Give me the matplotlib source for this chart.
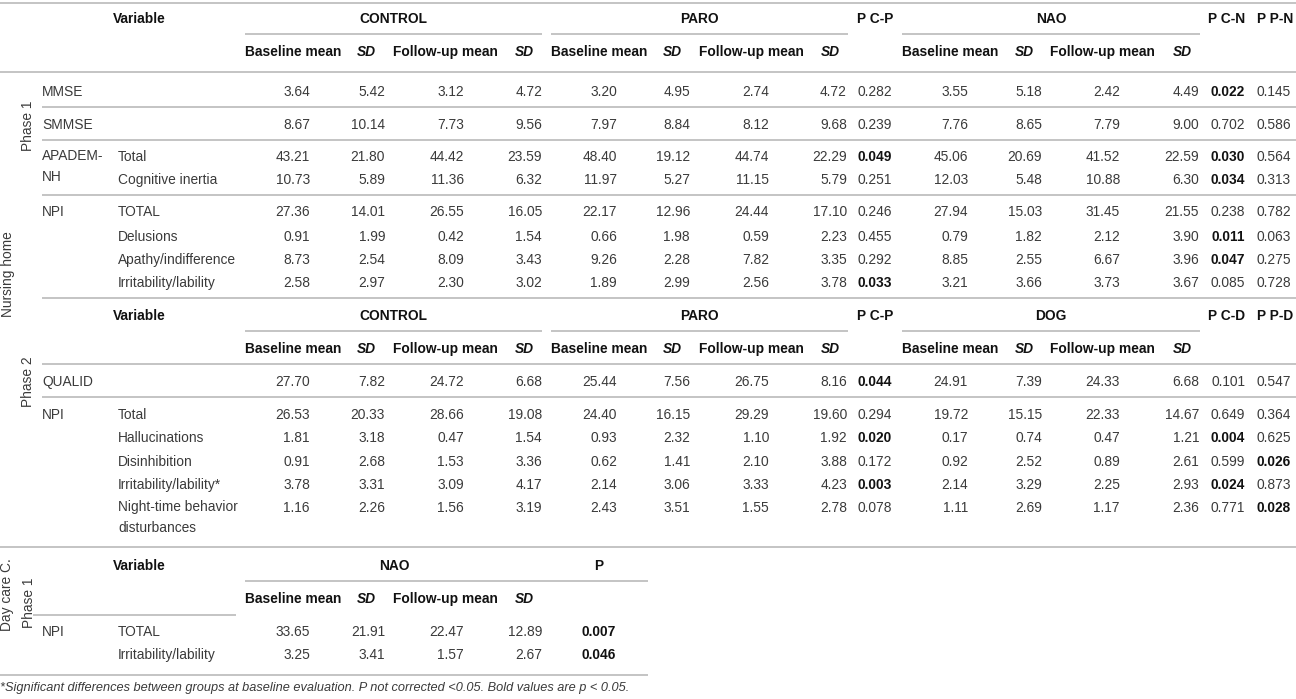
import matplotlib.pyplot as plt

# ---- data ----
p1_var = ["MMSE", "SMMSE", "APADEM-\nNH", "", "NPI", "", "", ""]
p1_sub = ["", "", "Total", "Cognitive inertia", "TOTAL", "Delusions",
          "Apathy/indifference", "Irritability/lability"]
p1_control = [[3.64, 5.42, 3.12, 4.72], [8.67, 10.14, 7.73, 9.56],
              [43.21, 21.80, 44.42, 23.59], [10.73, 5.89, 11.36, 6.32],
              [27.36, 14.01, 26.55, 16.05], [0.91, 1.99, 0.42, 1.54],
              [8.73, 2.54, 8.09, 3.43], [2.58, 2.97, 2.30, 3.02]]
p1_paro = [[3.20, 4.95, 2.74, 4.72], [7.97, 8.84, 8.12, 9.68],
           [48.40, 19.12, 44.74, 22.29], [11.97, 5.27, 11.15, 5.79],
           [22.17, 12.96, 24.44, 17.10], [0.66, 1.98, 0.59, 2.23],
           [9.26, 2.28, 7.82, 3.35], [1.89, 2.99, 2.56, 3.78]]
p1_p_cp = [0.282, 0.239, 0.049, 0.251, 0.246, 0.455, 0.292, 0.033]
p1_nao = [[3.55, 5.18, 2.42, 4.49], [7.76, 8.65, 7.79, 9.00],
          [45.06, 20.69, 41.52, 22.59], [12.03, 5.48, 10.88, 6.30],
          [27.94, 15.03, 31.45, 21.55], [0.79, 1.82, 2.12, 3.90],
          [8.85, 2.55, 6.67, 3.96], [3.21, 3.66, 3.73, 3.67]]
p1_p_cn = [0.022, 0.702, 0.030, 0.034, 0.238, 0.011, 0.047, 0.085]
p1_p_pn = [0.145, 0.586, 0.564, 0.313, 0.782, 0.063, 0.275, 0.728]

p2_var = ["QUALID", "NPI", "", "", "", ""]
p2_sub = ["", "Total", "Hallucinations", "Disinhibition",
          "Irritability/lability*", "Night-time behavior\ndisturbances"]
p2_control = [[27.70, 7.82, 24.72, 6.68], [26.53, 20.33, 28.66, 19.08],
              [1.81, 3.18, 0.47, 1.54], [0.91, 2.68, 1.53, 3.36],
              [3.78, 3.31, 3.09, 4.17], [1.16, 2.26, 1.56, 3.19]]
p2_paro = [[25.44, 7.56, 26.75, 8.16], [24.40, 16.15, 29.29, 19.60],
           [0.93, 2.32, 1.10, 1.92], [0.62, 1.41, 2.10, 3.88],
           [2.14, 3.06, 3.33, 4.23], [2.43, 3.51, 1.55, 2.78]]
p2_p_cp = [0.044, 0.294, 0.020, 0.172, 0.003, 0.078]
p2_dog = [[24.91, 7.39, 24.33, 6.68], [19.72, 15.15, 22.33, 14.67],
          [0.17, 0.74, 0.47, 1.21], [0.92, 2.52, 0.89, 2.61],
          [2.14, 3.29, 2.25, 2.93], [1.11, 2.69, 1.17, 2.36]]
p2_p_cd = [0.101, 0.649, 0.004, 0.599, 0.024, 0.771]
p2_p_pd = [0.547, 0.364, 0.625, 0.026, 0.873, 0.028]

dc_var = ["NPI", ""]
dc_sub = ["TOTAL", "Irritability/lability"]
dc_nao = [[33.65, 21.91, 22.47, 12.89], [3.25, 3.41, 1.57, 2.67]]
dc_p = [0.007, 0.046]

sub_heads = ["Baseline mean", "SD", "Follow-up mean", "SD"]
footnote = ("*Significant differences between groups at baseline evaluation. "
            "P not corrected <0.05. Bold values are p < 0.05.")

# ---- layout (pixels) ----
W, H = 1296, 699
TXT = "#3a3a3a"
BOLD = "#111111"
LINE = "#c4c4c4"
FS = 9.9
plt.rcParams['font.family'] = ['Liberation Sans', 'DejaVu Sans']

fig = plt.figure(figsize=(W / 100, H / 100), dpi=100)
ax = fig.add_axes([0, 0, 1, 1])
ax.set_xlim(0, W)
ax.set_ylim(H, 0)
ax.axis('off')


def txt(x, y, s, ha='left', bold=False, italic=False, size=FS, rot=0, va='center'):
    ax.text(x, y, s, ha=ha, va=va, color=BOLD if bold else TXT, fontsize=size,
            fontweight='bold' if bold else 'normal',
            fontstyle='italic' if italic else 'normal', rotation=rot,
            linespacing=1.65)


def label(x, y, s):
    # two-line labels start at the row, single ones are centred on it
    if "\n" in s:
        txt(x, y - 8, s, va='top')
    else:
        txt(x, y, s)


def hline(y, x0=0, x1=W):
    ax.plot([x0, x1], [y, y], color=LINE, lw=1.4, solid_capstyle='butt')


def pval(x, y, p):
    txt(x, y, "%.3f" % p, ha='center', bold=p < 0.05)


def group_head(y, name, x0, x1, head_x, cx=None):
    txt((x0 + x1) / 2 if cx is None else cx, y, name, ha='center', bold=True)
    hline(y + 15, x0, x1)
    for hx, h in zip(head_x, sub_heads):
        txt(hx, y + 33, h, bold=True, italic=(h == "SD"))


def values(y, vals, right_x):
    for rx, v in zip(right_x, vals):
        txt(rx, y, "%.2f" % v, ha='right')


ctrl_r = [310, 385, 464, 542]
paro_r = [617, 690, 769, 847]
nao_r = [968, 1042, 1120, 1199]
ctrl_h = [245, 357, 393, 515]
paro_h = [551, 663, 699, 821]
nao_h = [902, 1015, 1050, 1173]
X_VAR, X_SUB, X_HEAD = 42, 118, 113

# ---- nursing home, phase 1 ----
hline(3)
txt(X_HEAD, 19, "Variable", bold=True)
group_head(19, "CONTROL", 245, 542, ctrl_h)
group_head(19, "PARO", 551, 848, paro_h)
group_head(19, "NAO", 902, 1200, nao_h)
txt(875, 19, "P C-P", ha='center', bold=True)
txt(1227, 19, "P C-N", ha='center', bold=True)
txt(1275, 19, "P P-N", ha='center', bold=True)
hline(72)

p1_y = [92, 125, 157, 180, 212, 237, 260, 283]
for i, y in enumerate(p1_y):
    label(X_VAR, y, p1_var[i])
    label(X_SUB, y, p1_sub[i])
    values(y, p1_control[i], ctrl_r)
    values(y, p1_paro[i], paro_r)
    pval(875, y, p1_p_cp[i])
    values(y, p1_nao[i], nao_r)
    pval(1228, y, p1_p_cn[i])
    pval(1274, y, p1_p_pn[i])
for y in [107, 140, 195, 298]:
    hline(y, X_VAR)
txt(28, 126, "Phase 1", ha='center', rot=90)
txt(8, 274, "Nursing home", ha='center', rot=90)

# ---- nursing home, phase 2 ----
txt(X_HEAD, 316, "Variable", bold=True)
group_head(316, "CONTROL", 245, 542, ctrl_h)
group_head(316, "PARO", 551, 848, paro_h)
group_head(316, "DOG", 902, 1200, nao_h)
txt(875, 316, "P C-P", ha='center', bold=True)
txt(1227, 316, "P C-D", ha='center', bold=True)
txt(1275, 316, "P P-D", ha='center', bold=True)
hline(364, X_VAR)

p2_y = [382, 415, 438, 462, 485, 508]
for i, y in enumerate(p2_y):
    label(X_VAR, y, p2_var[i])
    label(X_SUB, y, p2_sub[i])
    values(y, p2_control[i], ctrl_r)
    values(y, p2_paro[i], paro_r)
    pval(875, y, p2_p_cp[i])
    values(y, p2_dog[i], nao_r)
    pval(1228, y, p2_p_cd[i])
    pval(1274, y, p2_p_pd[i])
hline(397, X_VAR)
txt(28, 382, "Phase 2", ha='center', rot=90)
hline(547)

# ---- day care centre, phase 1 ----
txt(X_HEAD, 566, "Variable", bold=True)
group_head(566, "NAO", 245, 648, ctrl_h, cx=394)
txt(599, 566, "P", ha='center', bold=True)
hline(615, 33, 236)
dc_y = [632, 655]
for i, y in enumerate(dc_y):
    label(X_VAR, y, dc_var[i])
    label(X_SUB, y, dc_sub[i])
    values(y, dc_nao[i], ctrl_r)
    pval(599, y, dc_p[i])
hline(675, 0, 648)
txt(29, 603, "Phase 1", ha='center', rot=90)
txt(7, 595, "Day care C.", ha='center', rot=90)

txt(0, 688, footnote, italic=True, size=9.2)

fig.savefig("out.png", dpi=100)
